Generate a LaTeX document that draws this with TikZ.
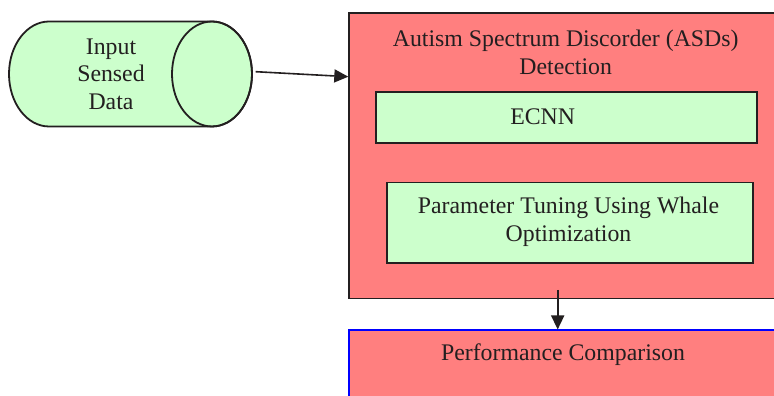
\documentclass[tikz,border=0pt]{standalone}
\usepackage{fontspec}
\setmainfont{Liberation Serif}
\newfontfamily\labelfont{Liberation Serif}
\usetikzlibrary{arrows.meta}
\definecolor{boxred}{HTML}{FF7F7F}
\definecolor{boxgreen}{HTML}{CCFFCC}
\definecolor{ink}{HTML}{231F20}
\tikzset{
  txt/.style={font=\labelfont\fontsize{23.8}{27.5}\selectfont, text=ink, align=center, inner sep=0pt},
  outerbox/.style={draw=ink, line width=1.8pt, fill=boxred, rectangle, inner sep=0pt},
  innerbox/.style={draw=ink, line width=1.8pt, fill=boxgreen, rectangle, inner sep=0pt},
  arr/.style={draw=ink, line width=1.6pt, -{Triangle[length=14pt,width=13pt]}},
}
\begin{document}
\begin{tikzpicture}[x=1pt,y=1pt]
\useasboundingbox (0,0) rectangle (774,396);
\clip (0,0) rectangle (774,396);
\fill[white] (0,0) rectangle (774,396);

% input data cylinder: body with a rounded left cap and an open right face
\filldraw[draw=ink, fill=boxgreen, line width=1.8pt]
  (49,374.5) -- (212,374.5)
  arc[start angle=90, end angle=-90, x radius=40pt, y radius=52.5pt]
  -- (49,269.5)
  arc[start angle=270, end angle=90, x radius=40pt, y radius=52.5pt] -- cycle;
\draw[draw=ink, line width=1.8pt] (212,322) ellipse[x radius=40pt, y radius=52.5pt];
\node[inner sep=0pt, minimum width=243pt, minimum height=105pt] (src) at (130.5,322) {};
\node[txt] (srctxt) at (111,322) {Input\\Sensed\\Data};

% detection block
\node[outerbox, anchor=north west, minimum width=430pt, minimum height=285.4pt] (main) at (348.3,383.7) {};
\node[txt] (title) at (565.7,343.5) {Autism Spectrum Discorder (ASDs)\\Detection};
\node[innerbox, anchor=north west, minimum width=381pt, minimum height=51pt] (ecnn) at (375,305) {};
\node[txt] (ecnntxt) at (542.7,279.3) {ECNN};
\node[innerbox, anchor=north west, minimum width=365.7pt, minimum height=80.6pt] (tune) at (386,214.3) {};
\node[txt] (tunetxt) at (568.5,174.3) {Parameter Tuning Using Whale\\Optimization};

% comparison block
\node[rectangle, draw=blue, line width=1.8pt, fill=boxred, anchor=north west,
      minimum width=430pt, minimum height=80pt, inner sep=0pt] (perf) at (348.3,66.5) {};
\node[txt] (perftxt) at (563,41) {Performance Comparison};

% connectors
\coordinate (inA) at ([xshift=3.5pt,yshift=2.3pt]src.east);
\coordinate (inB) at (main.west |- 0,319.3);
\draw[arr] (inA) -- (inB);
\coordinate (dnA) at (557.7,106);
\coordinate (dnB) at (dnA |- perf.north);
\draw[arr] (dnA) -- (dnB);
\end{tikzpicture}
\end{document}
